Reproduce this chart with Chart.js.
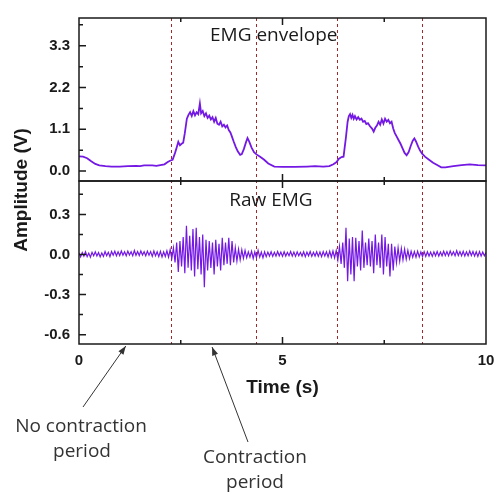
<!DOCTYPE html>
<html>
<head>
<meta charset="utf-8">
<script src="https://cdn.jsdelivr.net/npm/chart.js@4.4.1/dist/chart.umd.min.js"></script>
<style>
  html, body { margin: 0; padding: 0; background: #fff; }
</style>
</head>
<body>
<canvas id="emg" width="494" height="493"></canvas>
<script>
// EMG envelope (time in s, amplitude in V)
const envTime = [0, 0.1, 0.2, 0.3, 0.4, 0.5, 0.65, 0.8, 1.0, 1.2, 1.4, 1.5, 1.6, 1.8, 1.9, 2.0, 2.1, 2.18, 2.25, 2.3,
  2.36, 2.4, 2.44, 2.48, 2.52, 2.56, 2.6, 2.65, 2.69, 2.73, 2.77, 2.81, 2.85, 2.89, 2.93, 2.97, 3.0, 3.04, 3.08, 3.12,
  3.16, 3.2, 3.24, 3.28, 3.32, 3.36, 3.4, 3.44, 3.48, 3.52, 3.56, 3.6, 3.64, 3.68, 3.72, 3.76, 3.8, 3.85, 3.9, 3.96,
  4.0, 4.05, 4.1, 4.14, 4.18, 4.24, 4.3, 4.36, 4.45, 4.55, 4.65, 4.8, 5.0, 5.3, 5.6, 5.8, 6.0, 6.15, 6.25, 6.33,
  6.38, 6.45, 6.5, 6.56, 6.6, 6.63, 6.66, 6.69, 6.72, 6.75, 6.78, 6.82, 6.86, 6.9, 6.94, 6.98, 7.02, 7.06, 7.1, 7.15,
  7.2, 7.24, 7.28, 7.32, 7.36, 7.4, 7.44, 7.48, 7.52, 7.56, 7.6, 7.64, 7.68, 7.72, 7.76, 7.8, 7.85, 7.9, 7.95, 8.0,
  8.05, 8.1, 8.15, 8.2, 8.24, 8.28, 8.33, 8.38, 8.43, 8.5, 8.6, 8.7, 8.8, 8.9, 9.0, 9.2, 9.4, 9.6, 9.8, 10.0];
const envAmp = [0.39, 0.38, 0.34, 0.26, 0.19, 0.15, 0.13, 0.12, 0.12, 0.13, 0.14, 0.13, 0.15, 0.15, 0.14, 0.16, 0.18, 0.24, 0.28, 0.3,
  0.48, 0.62, 0.77, 0.68, 0.72, 0.75, 1.0, 1.38, 1.48, 1.55, 1.45, 1.58, 1.47, 1.55, 1.5, 1.78, 1.52, 1.58, 1.45, 1.52,
  1.4, 1.46, 1.36, 1.42, 1.3, 1.4, 1.25, 1.22, 1.3, 1.18, 1.22, 1.15, 1.2, 1.08, 1.02, 0.9, 0.78, 0.64, 0.52, 0.43,
  0.45, 0.58, 0.75, 0.87, 0.78, 0.62, 0.5, 0.44, 0.38, 0.3, 0.2, 0.12, 0.11, 0.11, 0.12, 0.13, 0.12, 0.13, 0.18, 0.24,
  0.32, 0.37, 0.38, 0.9, 1.3, 1.45, 1.5, 1.4, 1.48, 1.38, 1.45, 1.36, 1.42, 1.35, 1.38, 1.3, 1.32, 1.24, 1.26, 1.18,
  1.12, 1.04, 1.14, 1.2, 1.3, 1.22, 1.36, 1.25, 1.38, 1.3, 1.35, 1.26, 1.3, 1.12, 1.0, 0.92, 0.82, 0.72, 0.6, 0.48,
  0.42, 0.5, 0.66, 0.8, 0.86, 0.78, 0.65, 0.54, 0.46, 0.38, 0.3, 0.22, 0.16, 0.1, 0.1, 0.13, 0.16, 0.18, 0.16, 0.15];

// raw EMG, one value every rawStep seconds from t = 0
const rawStep = 0.04;
const rawAmp = [
  0.012, -0.018, 0.015, -0.012, 0.02, -0.016, 0.01, -0.02, 0.016, -0.01,
  0.02, -0.012, 0.014, -0.018, 0.012, -0.014, 0.022, -0.01, 0.016, -0.016,
  0.022, -0.006, 0.024, -0.01, 0.02, -0.008, 0.026, -0.006, 0.02, -0.01,
  0.025, -0.004, 0.02, -0.01, 0.03, -0.006, 0.022, -0.008, 0.026, -0.004,
  0.02, -0.01, 0.025, -0.006, 0.022, -0.014, 0.026, -0.01, 0.02, -0.016,
  0.024, -0.018, 0.02, -0.015, 0.028, -0.02, 0.035, -0.03, 0.05, -0.06,
  0.09, -0.13, 0.1, -0.09, 0.13, -0.14, 0.215, -0.1, 0.14, -0.12,
  0.19, -0.165, 0.2, -0.11, 0.13, -0.15, 0.15, -0.245, 0.11, -0.12,
  0.1, -0.1, 0.09, -0.15, 0.11, -0.09, 0.08, -0.12, 0.125, -0.08,
  0.09, -0.07, 0.125, -0.08, 0.1, -0.06, 0.05, -0.05, 0.04, -0.04,
  0.035, -0.03, 0.03, -0.025, 0.02, -0.02,
  0.025, -0.03, 0.02, -0.025, 0.03, -0.02, 0.018, -0.025, 0.02, -0.016,
  0.018, -0.012, 0.02, -0.014, 0.016, -0.012, 0.022, -0.01, 0.018, -0.014,
  0.02, -0.012, 0.016, -0.01, 0.022, -0.012, 0.018, -0.014, 0.02, -0.01,
  0.016, -0.012, 0.02, -0.016, 0.018, -0.01, 0.022, -0.014, 0.016, -0.012,
  0.02, -0.014, 0.018, -0.016, 0.022, -0.012, 0.02, -0.018, 0.024, -0.02, 0.026, -0.025,
  0.03, -0.04, 0.06, -0.07, 0.09, -0.1, 0.2, -0.2, 0.12, -0.15,
  0.13, -0.2, 0.125, -0.09, 0.1, -0.12, 0.18, -0.1, 0.09, -0.08,
  0.12, -0.09, 0.1, -0.14, 0.15, -0.08, 0.09, -0.1, 0.15, -0.15,
  0.13, -0.09, 0.08, -0.165, 0.08, -0.12, 0.06, -0.06, 0.05, -0.05,
  0.045, -0.04, 0.04, -0.035, 0.03, -0.03, 0.025, -0.02,
  0.022, -0.02, 0.025, -0.018, 0.02, -0.016, 0.022, -0.014, 0.02, -0.012,
  0.018, -0.014, 0.02, -0.01, 0.022, -0.012, 0.018, -0.01, 0.024, -0.008,
  0.022, -0.01, 0.026, -0.006, 0.02, -0.01, 0.028, -0.008, 0.022, -0.01,
  0.024, -0.012, 0.02, -0.01, 0.026, -0.008, 0.022, -0.012, 0.02, -0.014,
  0.022, -0.012, 0.018, -0.01, 0.015];

const markerTimes = [2.25, 4.34, 6.34, 8.43];   // dashed red lines
const timeTicks = [0, 5, 10];
const timeMinor = [2.5, 7.5];
const envTicks = [0, 1.1, 2.2, 3.3];
const envMinor = [0.55, 1.65, 2.75, 3.85];
const rawTicks = [-0.6, -0.3, 0, 0.3];
const rawMinor = [-0.45, -0.15, 0.15, 0.45];

const ink = '#1a1a1a';
const trace = '#7418e4';
const boldFont = 'Liberation Sans, Arial, sans-serif';
const textFont = '"Open Sans", sans-serif';

const envPoints = envTime.map((t, i) => ({ x: t, y: envAmp[i] }));
const rawPoints = rawAmp.map((v, i) => ({ x: +(i * rawStep).toFixed(2), y: v }));

const fixTicks = list => scale => { scale.ticks = list.map(v => ({ value: v })); };

function yAxis(min, max, ticks) {
  return {
    type: 'linear', position: 'left', stack: 'amp', stackWeight: 1,
    min: min, max: max,
    afterBuildTicks: fixTicks(ticks),
    afterFit: s => { s.width = 79; },
    grid: { display: false, drawTicks: false },
    border: { display: false },
    ticks: {
      padding: 9, color: ink,
      font: { family: boldFont, weight: 'bold', size: 15 },
      callback: v => v.toFixed(1)
    }
  };
}

function arrow(ctx, x0, y0, x1, y1) {
  const ang = Math.atan2(y1 - y0, x1 - x0);
  ctx.beginPath();
  ctx.moveTo(x0, y0);
  ctx.lineTo(x1, y1);
  ctx.stroke();
  ctx.beginPath();
  ctx.moveTo(x1, y1);
  ctx.lineTo(x1 - 9 * Math.cos(ang - 0.35), y1 - 9 * Math.sin(ang - 0.35));
  ctx.lineTo(x1 - 9 * Math.cos(ang + 0.35), y1 - 9 * Math.sin(ang + 0.35));
  ctx.closePath();
  ctx.fill();
}

const framePlugin = {
  id: 'frame',
  beforeDatasetsDraw(chart) {
    const { ctx, chartArea: a, scales: { x } } = chart;
    ctx.save();
    ctx.strokeStyle = '#a3282c';
    ctx.lineWidth = 1;
    ctx.setLineDash([3, 3]);
    markerTimes.forEach(t => {
      const px = Math.round(x.getPixelForValue(t)) + 0.5;
      ctx.beginPath();
      ctx.moveTo(px, a.top);
      ctx.lineTo(px, a.bottom);
      ctx.stroke();
    });
    ctx.restore();
  },
  afterDatasetsDraw(chart) {
    const { ctx, chartArea: a, scales: { x, yEnv, yRaw } } = chart;
    ctx.save();
    ctx.strokeStyle = ink;
    ctx.fillStyle = ink;
    ctx.lineWidth = 1.5;

    [[yEnv, envTicks, envMinor], [yRaw, rawTicks, rawMinor]].forEach(([s, major, minor]) => {
      ctx.strokeRect(a.left, s.top, a.right - a.left, s.bottom - s.top);
      ctx.beginPath();
      major.forEach(v => { const py = s.getPixelForValue(v); ctx.moveTo(a.left, py); ctx.lineTo(a.left + 7, py); });
      minor.forEach(v => {
        const py = s.getPixelForValue(v);
        if (py > s.top + 2) { ctx.moveTo(a.left, py); ctx.lineTo(a.left + 4, py); }
      });
      [5].concat(timeMinor).forEach(t => {
        const px = x.getPixelForValue(t);
        const len = t === 5 ? 7 : 4;
        ctx.moveTo(px, s.top); ctx.lineTo(px, s.top + len);
        ctx.moveTo(px, s.bottom); ctx.lineTo(px, s.bottom - len);
      });
      ctx.stroke();
    });

    // panel labels
    ctx.font = '19px ' + textFont;
    ctx.textAlign = 'left';
    ctx.textBaseline = 'alphabetic';
    ctx.fillText('EMG envelope', x.getPixelForValue(3.22), yEnv.top + 23);
    ctx.fillText('Raw EMG', x.getPixelForValue(3.69), yRaw.top + 24.5);

    // shared y title
    ctx.save();
    ctx.translate(27, (a.top + a.bottom) / 2 + 9);
    ctx.rotate(-Math.PI / 2);
    ctx.font = 'bold 19px ' + boldFont;
    ctx.textAlign = 'center';
    ctx.fillText('Amplitude (V)', 0, 0);
    ctx.restore();

    // annotations below the time axis
    ctx.lineWidth = 1;
    ctx.strokeStyle = '#333';
    ctx.fillStyle = '#333';
    arrow(ctx, 83, a.bottom + 63, x.getPixelForValue(1.15), a.bottom + 2);
    arrow(ctx, 248, a.bottom + 98, x.getPixelForValue(3.27), a.bottom + 3);
    ctx.font = '19px ' + textFont;
    ctx.textAlign = 'center';
    ctx.fillText('No contraction', 81, a.bottom + 88);
    ctx.fillText('period', 82, a.bottom + 113);
    ctx.fillText('Contraction', 255, a.bottom + 119);
    ctx.fillText('period', 255, a.bottom + 144);
    ctx.restore();
  }
};

new Chart(document.getElementById('emg'), {
  type: 'line',
  data: {
    datasets: [
      { label: 'Raw EMG', data: rawPoints, yAxisID: 'yRaw', borderColor: trace, borderWidth: 1.2, pointRadius: 0, tension: 0 },
      { label: 'EMG envelope', data: envPoints, yAxisID: 'yEnv', borderColor: trace, borderWidth: 1.8, pointRadius: 0, tension: 0 }
    ]
  },
  options: {
    responsive: false,
    animation: false,
    layout: { padding: { top: 10, right: 8, left: 0, bottom: 0 } },
    plugins: { legend: { display: false }, tooltip: { enabled: false } },
    scales: {
      x: {
        type: 'linear', min: 0, max: 10,
        afterBuildTicks: fixTicks(timeTicks),
        // fixed box height; let the "10" label hang past the plot edge
        afterFit: s => { s.height = 149; s.paddingLeft = 0; s.paddingRight = 0; },
        grid: { display: false, drawTicks: false },
        border: { display: false },
        ticks: { padding: 8, color: ink, maxRotation: 0, autoSkip: false, font: { family: boldFont, weight: 'bold', size: 15 } },
        title: {
          display: true, text: 'Time (s)', color: ink,
          font: { family: boldFont, weight: 'bold', size: 19 },
          padding: { top: 0, bottom: 94 }
        }
      },
      yRaw: yAxis(-0.67, 0.55, rawTicks),
      yEnv: yAxis(-0.26, 4.03, envTicks)
    }
  },
  plugins: [framePlugin]
});
</script>
</body>
</html>
